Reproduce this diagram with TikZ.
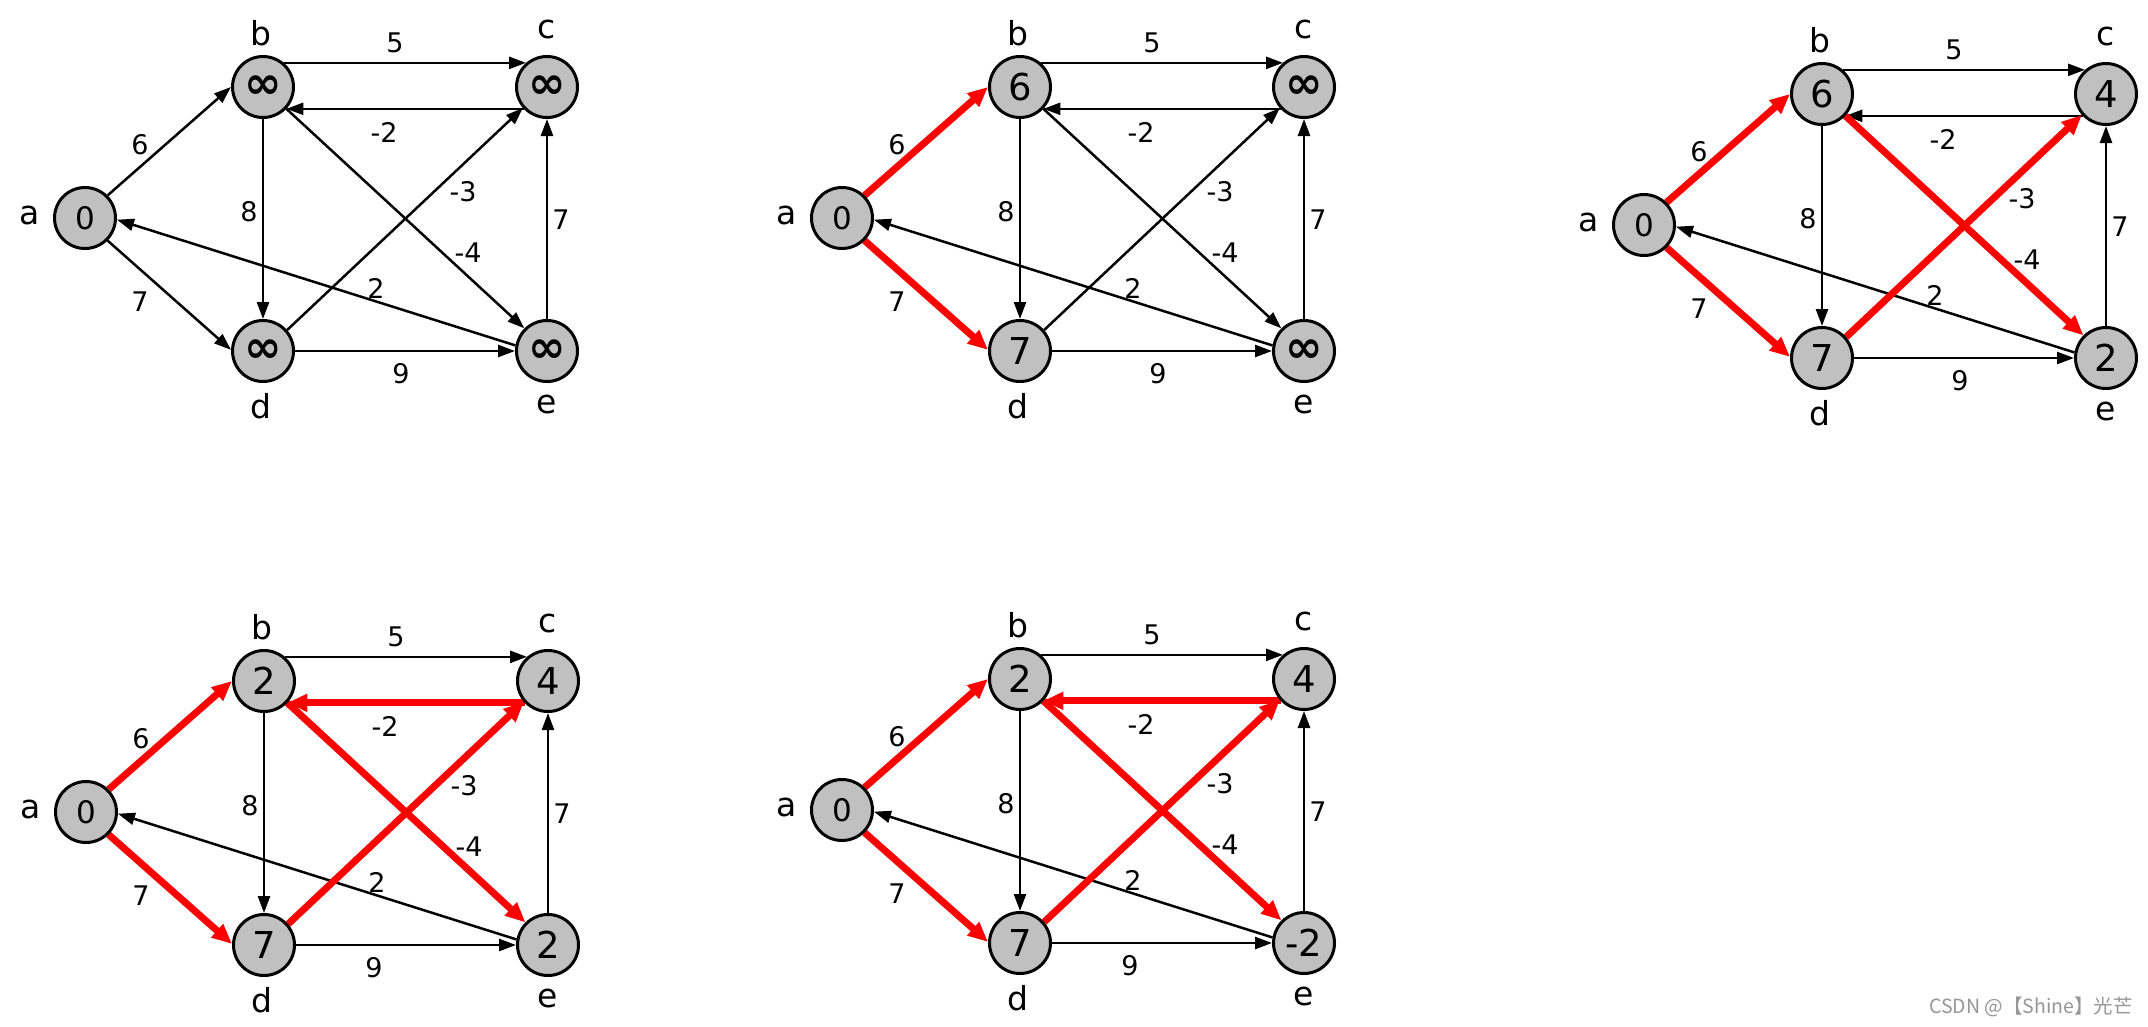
\documentclass[tikz,border=0pt]{standalone}
\usepackage{fontspec}
\setmainfont{DejaVu Sans}
\newfontfamily\cjkfont{Noto Sans CJK SC}
\usetikzlibrary{arrows.meta}
\definecolor{vgray}{RGB}{192,192,192}
\definecolor{wmgray}{RGB}{150,150,150}
\pgfdeclarelayer{bg}
\pgfdeclarelayer{edges}
\pgfsetlayers{bg,edges,main}
\tikzset{
  vtx/.style={circle, draw=black, line width=3pt, fill=vgray, minimum size=61pt, inner sep=0pt, font=\fontsize{37}{40}\selectfont},
  vlab/.style={anchor=base, inner sep=0pt, font=\fontsize{33}{36}\selectfont},
  wlab/.style={inner sep=0pt, font=\fontsize{27}{30}\selectfont},
  blk/.style={draw=black, line width=2.5pt, -{Triangle[length=17pt,width=12pt]}},
  redl/.style={draw=red, line width=7pt, -{Triangle[length=20pt,width=17pt]}},
  eab/.style={blk}, ead/.style={blk}, ebc/.style={blk}, ecb/.style={blk},
  ebd/.style={blk}, ebe/.style={blk}, edc/.style={blk}, eec/.style={blk},
  ede/.style={blk}, eea/.style={blk},
  ninepos/.style={}
}
\newcommand{\infsym}{\fontsize{45}{48}\selectfont\bfseries ∞}
\newcommand{\drawpanel}[5]{%
\begin{scope}[#1]
  \node[vtx, font=\fontsize{31}{34}\selectfont] (a) at (-178,-131) {0};
  \node[vtx] (b) at (0,0) {#2};
  \node[vtx] (c) at (284,0) {#3};
  \node[vtx] (d) at (0,-264) {#4};
  \node[vtx] (e) at (284,-264) {#5};
  \node[vlab] (la) at (-233,-137) {a};
  \node[vlab] (lb) at (-2,42) {b};
  \node[vlab] (lc) at (284,49) {c};
  \node[vlab] (ld) at (-2,-331) {d};
  \node[vlab] (le) at (284,-326) {e};
  \node[wlab] (w5) at (132,44) {5};
  \node[wlab] (wm2) at (121,-45) {-2};
  \node[wlab] (w6) at (-123,-58) {6};
  \node[wlab] (w8) at (-14,-125) {8};
  \node[wlab] (wm3) at (200,-105) {-3};
  \node[wlab] (w7r) at (298,-133) {7};
  \node[wlab] (wm4) at (205,-166) {-4};
  \node[wlab] (w2) at (113,-201) {2};
  \node[wlab] (w7l) at (-123,-215) {7};
  \node[wlab, ninepos] (w9) at (138,-287) {9};
  \begin{pgfonlayer}{edges}
    \draw[ebd] (b.270) -- (d.90);
    \draw[eec] (e.90) -- (c.270);
    \draw[ede] (d.0) -- (e.180);
    \draw[eea] (e.170) -- (a.357);
    \draw[ebc] (b.49) -- (c.131);
    \draw[ecb] (c.223) -- (b.317);
    \draw[ebe] (b.317) -- (e.135);
    \draw[edc] (d.41) -- (c.221);
    \draw[eab] (a.45) -- (b.180);
    \draw[ead] (a.315) -- (d.178);
  \end{pgfonlayer}
\end{scope}}
\begin{document}
\begin{tikzpicture}[x=1pt,y=1pt]
\begin{pgfonlayer}{bg}
  \path[fill=white] (0,0) rectangle (2148,-1026);
\end{pgfonlayer}
\useasboundingbox (0,0) rectangle (2148,-1026);
\drawpanel{shift={(263,-87)}, name prefix=p1-}{\infsym}{\infsym}{\infsym}{\infsym}
\drawpanel{shift={(1020,-87)}, name prefix=p2-, eab/.style={redl}, ead/.style={redl}}{6}{\infsym}{7}{\infsym}
\drawpanel{shift={(1822,-94)}, name prefix=p3-, eab/.style={redl}, ead/.style={redl}, ebe/.style={redl}, edc/.style={redl}}{6}{4}{7}{2}
\drawpanel{shift={(264,-681)}, name prefix=p4-, ninepos/.style={xshift=-28pt}, eab/.style={redl}, ead/.style={redl}, ebe/.style={redl}, edc/.style={redl}, ecb/.style={redl}}{2}{4}{7}{2}
\drawpanel{shift={(1020,-679)}, name prefix=p5-, ninepos/.style={xshift=-28pt}, eab/.style={redl}, ead/.style={redl}, ebe/.style={redl}, edc/.style={redl}, ecb/.style={redl}}{2}{4}{7}{-2}
\node[anchor=base east, inner sep=0pt, text=wmgray, font=\cjkfont\fontsize{19.5}{21}\selectfont] (wm) at (2133,-1013) {CSDN @【Shine】光芒};
\end{tikzpicture}
\end{document}
